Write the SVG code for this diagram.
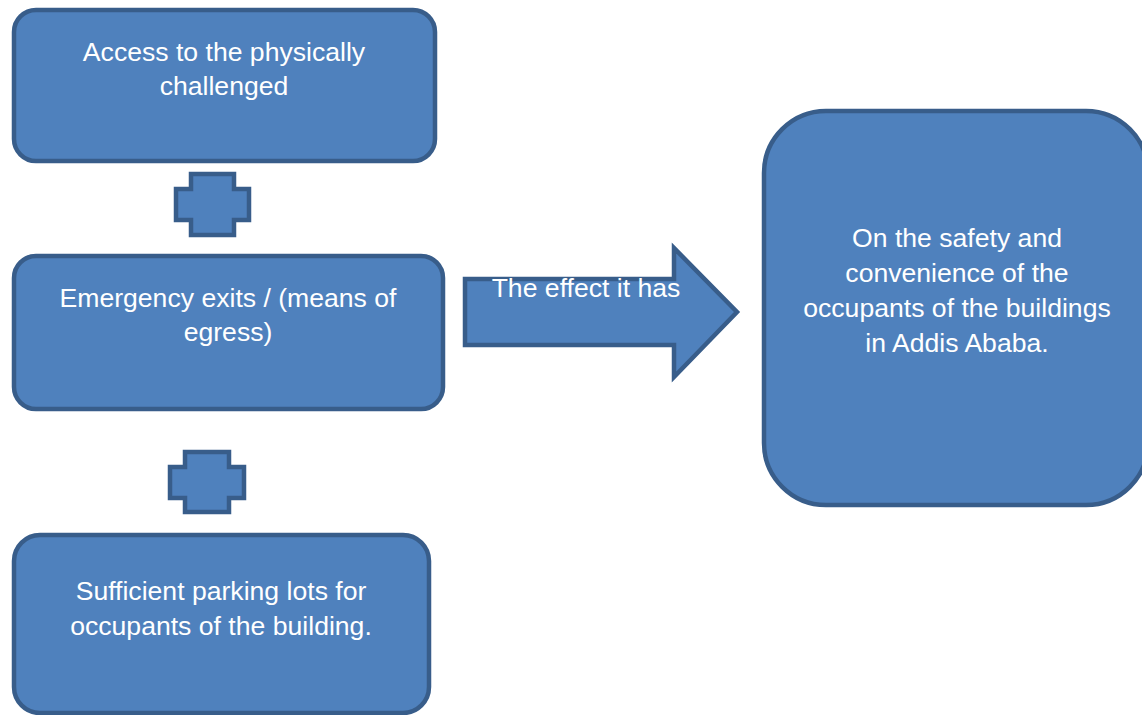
<svg xmlns="http://www.w3.org/2000/svg" width="1142" height="715" viewBox="0 0 1142 715">
<style>
.shape{fill:#4f81bd;stroke:#385d8a;stroke-width:4.5;stroke-linejoin:miter}
.t{font-family:"Liberation Sans",Arial,sans-serif;font-size:26.6px;fill:#ffffff;text-anchor:middle}
</style>
<rect width="1142" height="715" fill="#ffffff"/>
<g id="node-access">
<rect class="shape" x="14" y="10" width="421" height="151" rx="22" ry="22"/>
<text class="t" x="224" y="61">Access to the physically</text>
<text class="t" x="224" y="95">challenged</text>
</g>
<g id="node-emergency">
<rect class="shape" x="14" y="256" width="429" height="153" rx="22" ry="22"/>
<text class="t" x="228" y="307">Emergency exits / (means of</text>
<text class="t" x="228" y="341">egress)</text>
</g>
<g id="node-parking">
<rect class="shape" x="14" y="535" width="415" height="178" rx="26" ry="26"/>
<text class="t" x="221" y="600">Sufficient parking lots for</text>
<text class="t" x="221" y="635">occupants of the building.</text>
</g>
<g id="node-effect">
<rect class="shape" x="764" y="111" width="384" height="394" rx="62" ry="62"/>
<text class="t" x="957" y="247">On the safety and</text>
<text class="t" x="957" y="282">convenience of the</text>
<text class="t" x="957" y="317">occupants of the buildings</text>
<text class="t" x="957" y="352">in Addis Ababa.</text>
</g>
<g id="connectors">
<polygon id="plus-1" class="shape" points="191,174 234,174 234,189 249,189 249,220 234,220 234,235 191,235 191,220 176,220 176,189 191,189"/>
<polygon id="plus-2" class="shape" points="185,452 229,452 229,467 244,467 244,498 229,498 229,512 185,512 185,498 170,498 170,467 185,467"/>
<polygon id="arrow" class="shape" points="465,279 674,279 674,248 737,312 674,377 674,345 465,345"/>
<text class="t" x="586" y="297">The effect it has</text>
</g>
</svg>
